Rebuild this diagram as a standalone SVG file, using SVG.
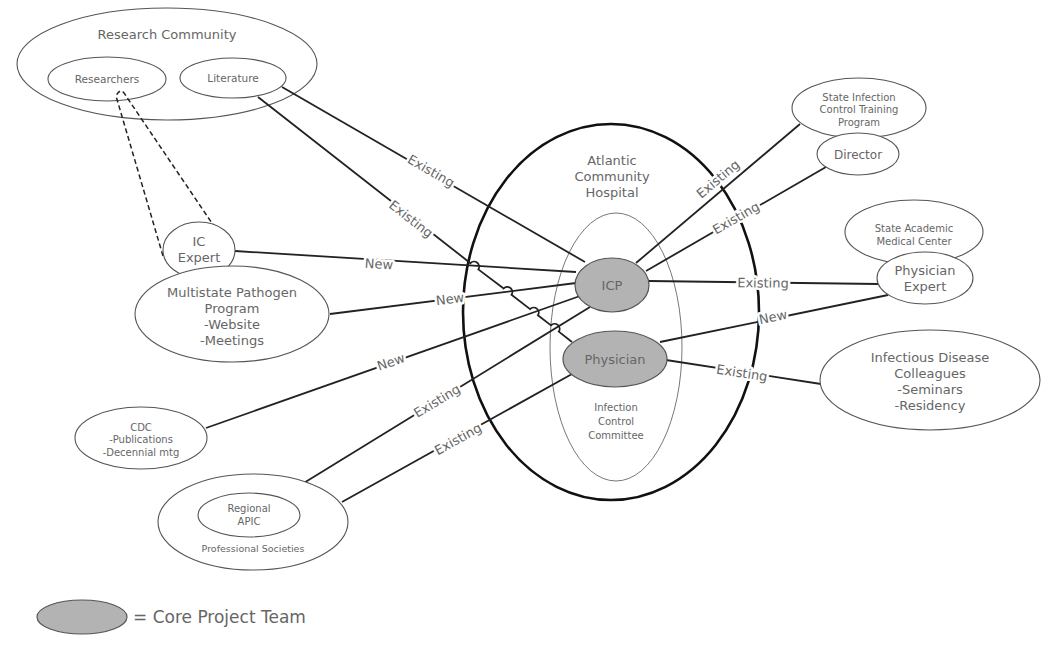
<svg xmlns="http://www.w3.org/2000/svg" width="1050" height="661" viewBox="0 0 1050 661">
<style>
.n{fill:#fff;stroke:#555;stroke-width:1.1}
.core{fill:#b3b3b3;stroke:#555;stroke-width:1.2}
.t{font-family:"DejaVu Sans",Verdana,sans-serif;fill:#666;text-anchor:middle}
.c{fill:none;stroke:#222;stroke-width:1.8}
.d{fill:none;stroke:#222;stroke-width:1.5;stroke-dasharray:5,3}
.l{font-family:"DejaVu Sans",Verdana,sans-serif;font-size:13px;fill:#666;text-anchor:middle;dominant-baseline:central;stroke:#fff;stroke-width:5;paint-order:stroke;stroke-linejoin:round}
</style>
<rect width="1050" height="661" fill="#fff"/>
<g id="research-community">
<ellipse class="n" cx="167" cy="64" rx="150" ry="56"/>
<text class="t" x="167" y="39" font-size="13">Research Community</text>
</g>
<g id="researchers">
<ellipse class="n" cx="107" cy="79" rx="59" ry="22"/>
<text class="t" x="107" y="83" font-size="10.5">Researchers</text>
</g>
<g id="literature">
<ellipse class="n" cx="233" cy="78" rx="53" ry="20"/>
<text class="t" x="233" y="82" font-size="10.5">Literature</text>
</g>
<g id="hospital">
<ellipse cx="611" cy="312" rx="148" ry="188" fill="none" stroke="#111" stroke-width="2.6"/>
<text class="t" x="612" y="165" font-size="13">Atlantic</text>
<text class="t" x="612" y="181" font-size="13">Community</text>
<text class="t" x="612" y="197" font-size="13">Hospital</text>
</g>
<g id="committee">
<ellipse cx="616" cy="347" rx="66" ry="134" fill="none" stroke="#777" stroke-width="1"/>
<text class="t" x="616" y="411" font-size="10">Infection</text>
<text class="t" x="616" y="425" font-size="10">Control</text>
<text class="t" x="616" y="439" font-size="10">Committee</text>
</g>
<g id="connectors">
<path class="d" d="M163,256 L116,96 Q121,86 126,96 L222,238"/>
<line class="c" x1="282" y1="87" x2="585" y2="262"/>
<path class="c" d="M258,97 L470.5,263.2 A5,5 0 0 1 478.3,269.4 L503.7,288.5 A5,5 0 0 1 511.5,294.7 L530.1,309.1 A5,5 0 0 1 537.9,315.3 L551,325.4 A5,5 0 0 1 558.8,331.6 L572,342"/>
<line class="c" x1="235" y1="251" x2="576" y2="272"/>
<line class="c" x1="330" y1="314" x2="576" y2="283"/>
<line class="c" x1="206" y1="428" x2="580" y2="296"/>
<line class="c" x1="281" y1="497" x2="590" y2="307"/>
<line class="c" x1="342" y1="502" x2="572" y2="374"/>
<line class="c" x1="636" y1="263" x2="800" y2="124"/>
<line class="c" x1="646" y1="271" x2="826" y2="167"/>
<line class="c" x1="649" y1="281" x2="878" y2="284"/>
<line class="c" x1="660" y1="342" x2="888" y2="295"/>
<line class="c" x1="666" y1="360" x2="821" y2="384"/>
<text class="l" transform="translate(431,171) rotate(30)">Existing</text>
<text class="l" transform="translate(411,219) rotate(38)">Existing</text>
<text class="l" transform="translate(379,264) rotate(3.5)">New</text>
<text class="l" transform="translate(450,299) rotate(-7)">New</text>
<text class="l" transform="translate(391,362) rotate(-19)">New</text>
<text class="l" transform="translate(437,401) rotate(-31)">Existing</text>
<text class="l" transform="translate(458,439) rotate(-29)">Existing</text>
<text class="l" transform="translate(718,179) rotate(-40)">Existing</text>
<text class="l" transform="translate(736,218) rotate(-30)">Existing</text>
<text class="l" transform="translate(763,283) rotate(0.7)">Existing</text>
<text class="l" transform="translate(773,317) rotate(-11.6)">New</text>
<text class="l" transform="translate(742,373) rotate(8.8)">Existing</text>
</g>
<g id="ic-expert">
<ellipse class="n" cx="199" cy="250" rx="36" ry="28"/>
<text class="t" x="199" y="246" font-size="13">IC</text>
<text class="t" x="199" y="262" font-size="13">Expert</text>
</g>
<g id="multistate">
<ellipse class="n" cx="232" cy="314" rx="97" ry="48"/>
<text class="t" x="232" y="297" font-size="13">Multistate Pathogen</text>
<text class="t" x="232" y="313" font-size="13">Program</text>
<text class="t" x="232" y="329" font-size="13">-Website</text>
<text class="t" x="232" y="345" font-size="13">-Meetings</text>
</g>
<g id="cdc">
<ellipse class="n" cx="141" cy="438" rx="66" ry="31"/>
<text class="t" x="141" y="431" font-size="10">CDC</text>
<text class="t" x="141" y="443" font-size="10">-Publications</text>
<text class="t" x="141" y="456" font-size="10">-Decennial mtg</text>
</g>
<g id="professional-societies">
<ellipse class="n" cx="253" cy="522" rx="95" ry="48"/>
<text class="t" x="253" y="552" font-size="9.5">Professional Societies</text>
</g>
<g id="regional-apic">
<ellipse class="n" cx="249" cy="515" rx="51" ry="22"/>
<text class="t" x="249" y="512" font-size="10">Regional</text>
<text class="t" x="249" y="525" font-size="10">APIC</text>
</g>
<g id="icp">
<ellipse class="core" cx="612" cy="285" rx="37" ry="27"/>
<text class="t" x="612" y="290" font-size="13" fill="#555">ICP</text>
</g>
<g id="physician">
<ellipse class="core" cx="615" cy="359" rx="52" ry="28"/>
<text class="t" x="615" y="364" font-size="13" fill="#555">Physician</text>
</g>
<g id="state-training">
<ellipse class="n" cx="859" cy="108" rx="67" ry="30"/>
<text class="t" x="859" y="101" font-size="10">State Infection</text>
<text class="t" x="859" y="113" font-size="10">Control Training</text>
<text class="t" x="859" y="126" font-size="10">Program</text>
</g>
<g id="director">
<ellipse class="n" cx="858" cy="154" rx="41" ry="21"/>
<text class="t" x="858" y="159" font-size="12">Director</text>
</g>
<g id="state-academic">
<ellipse class="n" cx="914" cy="232" rx="69" ry="32"/>
<text class="t" x="914" y="232" font-size="10">State Academic</text>
<text class="t" x="914" y="245" font-size="10">Medical Center</text>
</g>
<g id="physician-expert">
<ellipse class="n" cx="925" cy="278" rx="48" ry="26"/>
<text class="t" x="925" y="275" font-size="13">Physician</text>
<text class="t" x="925" y="291" font-size="13">Expert</text>
</g>
<g id="id-colleagues">
<ellipse class="n" cx="930" cy="380" rx="110" ry="50"/>
<text class="t" x="930" y="362" font-size="13">Infectious Disease</text>
<text class="t" x="930" y="378" font-size="13">Colleagues</text>
<text class="t" x="930" y="394" font-size="13">-Seminars</text>
<text class="t" x="930" y="410" font-size="13">-Residency</text>
</g>
<g id="legend">
<ellipse class="core" cx="82" cy="617" rx="45" ry="17"/>
<text x="133" y="623" font-family="DejaVu Sans,Verdana,sans-serif" font-size="17" fill="#666">= Core Project Team</text>
</g>
</svg>
